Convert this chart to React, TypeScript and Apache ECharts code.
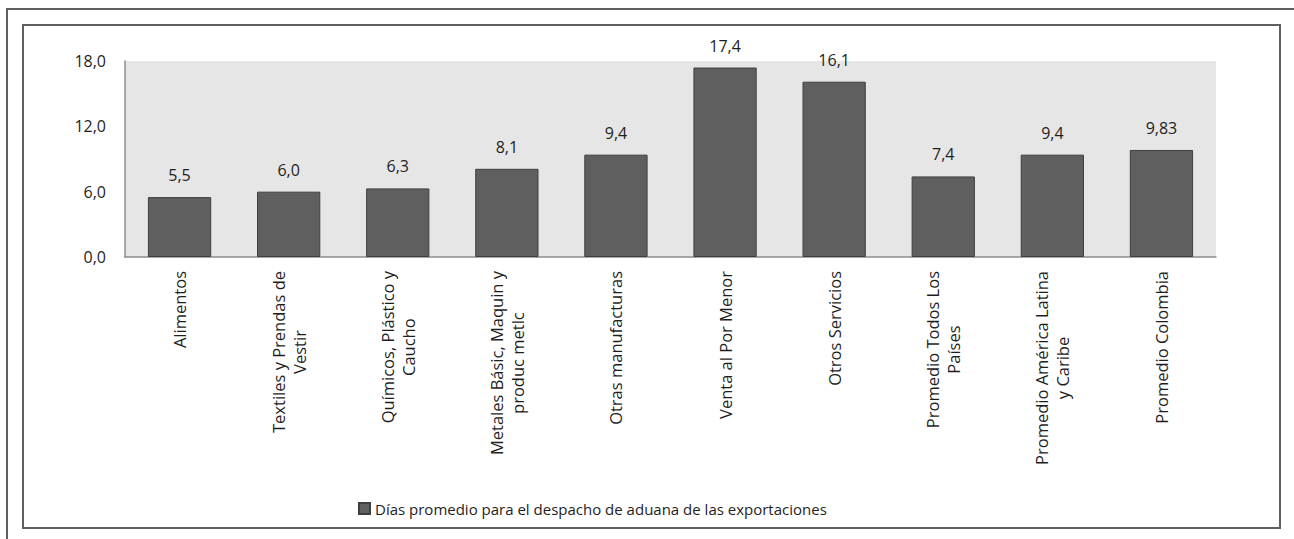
import React, { useEffect, useRef } from 'react';
import * as echarts from 'echarts';

const categories: string[] = [
  'Alimentos',
  'Textiles y Prendas de\nVestir',
  'Químicos, Plástico y\nCaucho',
  'Metales Básic, Maquin y\nproduc metlc',
  'Otras manufacturas',
  'Venta al Por Menor',
  'Otros Servicios',
  'Promedio Todos Los\nPaíses',
  'Promedio América Latina\ny Caribe',
  'Promedio Colombia',
];
const values: number[] = [5.5, 6.0, 6.3, 8.1, 9.4, 17.4, 16.1, 7.4, 9.4, 9.83];
const valueLabels: string[] = ['5,5', '6,0', '6,3', '8,1', '9,4', '17,4', '16,1', '7,4', '9,4', '9,83'];
const yMin = 0;
const yMax = 18;
const yInterval = 6;
const seriesName = 'Días promedio para el despacho de aduana de las exportaciones';

const FONT = '"Open Sans", "Noto Sans", sans-serif';
const TEXT = '#1e1e1e';

export default function App() {
  const ref = useRef<HTMLDivElement>(null);
  useEffect(() => {
    if (!ref.current) return;
    const chart = echarts.init(ref.current, undefined, { renderer: 'svg' });
    chart.setOption({
      animation: false,
      backgroundColor: '#ffffff',
      textStyle: { fontFamily: FONT },
      graphic: [
        {
          type: 'rect',
          shape: { x: 7, y: 9, width: 1320, height: 560 },
          style: { fill: 'none', stroke: '#5f5f5f', lineWidth: 2 },
          silent: true,
        },
        {
          type: 'rect',
          shape: { x: 23, y: 25, width: 1257, height: 503 },
          style: { fill: 'none', stroke: '#5f5f5f', lineWidth: 2 },
          silent: true,
        },
      ],
      grid: {
        left: 125,
        right: 78,
        top: 61,
        bottom: 282,
        show: true,
        backgroundColor: '#e6e6e6',
        borderWidth: 0,
      },
      legend: {
        left: 353,
        top: 496,
        itemWidth: 11,
        itemHeight: 11,
        icon: 'rect',
        textStyle: { fontFamily: FONT, fontSize: 15, color: TEXT },
        data: [seriesName],
      },
      xAxis: {
        type: 'category',
        data: categories,
        axisLine: { show: true, lineStyle: { color: '#8c8c8c', width: 1.5 } },
        axisTick: { show: false },
        axisLabel: {
          interval: 0,
          rotate: 90,
          margin: 14,
          color: TEXT,
          fontFamily: FONT,
          fontSize: 16.5,
          formatter: (v: string) =>
            v
              .split('\n')
              .map((l) => `{c|${l}}`)
              .join('\n'),
          rich: {
            c: { align: 'center', fontSize: 16.5, lineHeight: 21, fontFamily: FONT, color: TEXT },
          },
        },
      },
      yAxis: {
        type: 'value',
        min: yMin,
        max: yMax,
        interval: yInterval,
        splitLine: { show: false },
        axisLine: { show: true, lineStyle: { color: '#8c8c8c', width: 1.5 } },
        axisTick: { show: false },
        axisLabel: {
          margin: 19,
          color: TEXT,
          fontFamily: FONT,
          fontSize: 16,
          formatter: (v: number) => v.toFixed(1).replace('.', ','),
        },
      },
      series: [
        {
          name: seriesName,
          type: 'bar',
          data: values,
          barWidth: '58%',
          itemStyle: { color: '#5f5f5f', borderColor: '#3f3f3f', borderWidth: 1 },
          label: {
            show: true,
            position: 'top',
            distance: 14,
            color: TEXT,
            fontFamily: FONT,
            fontSize: 16,
            formatter: (p: any) => valueLabels[p.dataIndex],
          },
        },
      ],
    });
    return () => chart.dispose();
  }, []);
  return (
    <div
      ref={ref}
      style={{ position: 'absolute', left: 0, top: 0, width: 1294, height: 539 }}
    />
  );
}
